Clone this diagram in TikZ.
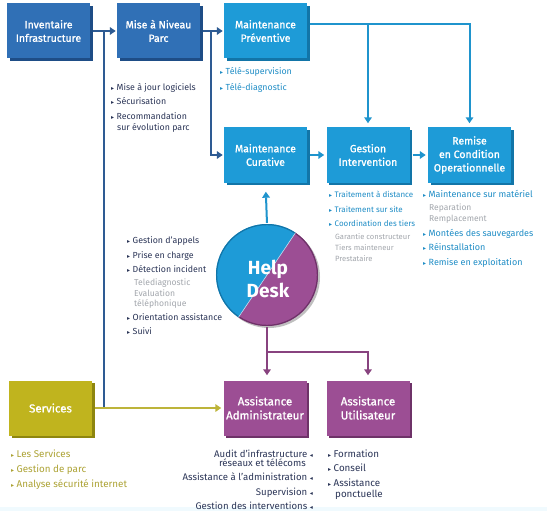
\documentclass[tikz,border=0pt]{standalone}
\usepackage{fontspec}
\setmainfont{Fira Sans}
\newfontfamily\djf{DejaVu Sans}
\newfontface\boxfnt{Fira Sans}[FakeBold=1.2]
\usetikzlibrary{arrows.meta,shadows}
\definecolor{dblue}{HTML}{3070B6}
\definecolor{dblueD}{HTML}{1E4D86}
\definecolor{cyanb}{HTML}{1E9BD7}
\definecolor{cyanD}{HTML}{1275A8}
\definecolor{oliveb}{HTML}{C0B41E}
\definecolor{oliveD}{HTML}{8E860F}
\definecolor{purpb}{HTML}{9C4E94}
\definecolor{purpD}{HTML}{6E3268}
\definecolor{lineblue}{HTML}{2E5B93}
\definecolor{linecyan}{HTML}{1F94CD}
\definecolor{linepurp}{HTML}{88437F}
\definecolor{lineolive}{HTML}{BDB43A}
\definecolor{navy}{HTML}{2B3557}
\definecolor{txtcyan}{HTML}{1F8DC6}
\definecolor{greyt}{HTML}{A3A7AD}
\definecolor{txtolive}{HTML}{ADA335}
\newcommand\rtri{{\djf\fontsize{6}{6}\selectfont ▸}\hspace{2.5pt}}
\newcommand\ltri{\hspace{2.5pt}{\djf\fontsize{6}{6}\selectfont ◂}}
\begin{document}
\begin{tikzpicture}[x=1pt,y=-1pt,
  box/.style={minimum width=83pt, minimum height=55pt, inner sep=1pt, align=center,
     text=white, font=\boxfnt\fontsize{10.5}{13.5}\selectfont},
  bluebox/.style={box, fill=dblue, general shadow={fill=dblueD, shadow xshift=2.5pt, shadow yshift=-2.5pt}},
  cyanbox/.style={box, fill=cyanb, general shadow={fill=cyanD, shadow xshift=2.5pt, shadow yshift=-2.5pt}},
  olivebox/.style={box, fill=oliveb, font=\boxfnt\fontsize{11.5}{14}\selectfont, general shadow={fill=oliveD, shadow xshift=2.5pt, shadow yshift=-2.5pt}},
  purpbox/.style={box, fill=purpb, font=\boxfnt\fontsize{11.5}{14}\selectfont, general shadow={fill=purpD, shadow xshift=2.5pt, shadow yshift=-2.5pt}},
  conn/.style={line width=2pt},
  arr/.style={conn, -{Triangle[length=6pt,width=7.5pt]}},
  lt/.style={anchor=base west, inner sep=0pt, font=\fontsize{8.8}{10}\selectfont},
  st/.style={anchor=base west, inner sep=0pt, font=\fontsize{8}{9}\selectfont, text=greyt},
  rt/.style={anchor=base east, inner sep=0pt, font=\fontsize{9.6}{10}\selectfont, text=navy},
  gs/.style={font=\fontsize{8}{9}\selectfont},
  rs/.style={font=\fontsize{9}{10}\selectfont},
  bs/.style={font=\fontsize{9.8}{10}\selectfont},
]
\useasboundingbox (0,0) rectangle (547,511);
\fill[white] (0,0) rectangle (547,511);
\fill[cyan!6] (0,507) rectangle (547,511);

% boxes
\node[bluebox] (inv) at (48.5,31) {Inventaire\\Infrastructure};
\node[bluebox] (mise) at (158.5,31) {Mise à Niveau\\Parc};
\node[cyanbox] (prev) at (265.5,31) {Maintenance\\Préventive};
\node[cyanbox] (cur) at (265.5,155) {Maintenance\\Curative};
\node[cyanbox] (gest) at (368,155) {Gestion\\Intervention};
\node[cyanbox] (rem) at (469.5,155) {Remise\\en Condition\\Operationnelle};
\node[olivebox] (serv) at (50.5,408) {Services};
\node[purpbox] (adm) at (265,408) {Assistance\\Administrateur};
\node[purpbox] (usr) at (368,408) {Assistance\\Utilisateur};

% help desk
\node[circle, minimum size=102pt, inner sep=0pt] (hd) at (267,275) {};
\fill[black!25] ([xshift=2pt,yshift=-2pt]hd.center) circle[radius=51pt];
\begin{scope}[shift={(hd.center)}, x=1pt, y=1pt]
  \fill[cyanb] (56:51) arc[start angle=56, end angle=236, radius=51] -- cycle;
  \fill[purpb] (236:51) arc[start angle=236, end angle=416, radius=51] -- cycle;
  \draw[cyanD, line width=1.2pt] (56:50.4) arc[start angle=56, end angle=236, radius=50.4];
  \draw[purpD, line width=1.2pt] (236:50.4) arc[start angle=236, end angle=416, radius=50.4];
  \draw[white!70!cyanb, line width=0.6pt] (56:51) -- (236:51);
\end{scope}
\node[text=white, font=\bfseries\fontsize{19}{23}\selectfont, align=center, inner sep=0pt] (hdt) at (268,279) {Help\\Desk};

% connectors
\coordinate (j1) at (104,31);
\coordinate (j2) at (211,31);
\coordinate (p1) at ([yshift=7pt]prev.east);
\coordinate (h1) at (hd.south |- 0,352);
\draw[arr, lineblue, shorten <=3pt, shorten >=1pt] (inv.east) -- (inv.east -| mise.west);
\draw[conn, lineblue] (j1) -- (j1 |- serv.east);
\draw[arr, lineolive, shorten <=3pt, shorten >=2pt] (serv.east) -- (adm.west);
\draw[arr, lineblue, shorten <=3pt, shorten >=1pt] (mise.east) -- (prev.west);
\draw[arr, lineblue, shorten >=1pt] (j2) |- (cur.west);
\draw[arr, linecyan, shorten <=3pt, shorten >=4pt] (p1) -| (rem.north);
\draw[arr, linecyan, shorten >=4pt] (p1 -| gest.north) -- (gest.north);
\draw[arr, linecyan, shorten <=3pt, shorten >=2pt] (cur.east) -- (gest.west);
\draw[arr, linecyan, shorten <=3pt, shorten >=2pt] (gest.east) -- (rem.west);
\draw[arr, linecyan, shorten <=1pt, shorten >=9pt] (hd.north) -- (cur.south);
\draw[conn, linepurp, shorten <=1pt] (hd.south) -- (h1);
\draw[arr, linepurp, shorten >=5pt] (h1) -- (h1 |- adm.north);
\draw[arr, linepurp, shorten >=5pt] (h1) -| (usr.north);

% Mise list
\node[lt, text=navy] (m1) at (111,91) {\rtri Mise à jour logiciels};
\node[lt, text=navy] (m2) at (111,105) {\rtri Sécurisation};
\node[lt, text=navy] (m3) at (111,120) {\rtri Recommandation};
\node[lt, text=navy] (m4) at (117,131) {sur évolution parc};

% Preventive list
\node[lt, text=txtcyan] (pv1) at (220,75) {\rtri Télé-supervision};
\node[lt, text=txtcyan] (pv2) at (220,91) {\rtri Télé-diagnostic};

% Gestion list
\node[lt, gs, text=txtcyan] (g1) at (329,197) {\rtri Traitement à distance};
\node[lt, gs, text=txtcyan] (g2) at (329,212) {\rtri Traitement sur site};
\node[lt, gs, text=txtcyan] (g3) at (329,226) {\rtri Coordination des tiers};
\node[st, font=\fontsize{7.6}{9}\selectfont] (g4) at (335,239) {Garantie constructeur};
\node[st, font=\fontsize{7.6}{9}\selectfont] (g5) at (335,250) {Tiers mainteneur};
\node[st, font=\fontsize{7.6}{9}\selectfont] (g6) at (335,261) {Prestataire};

% Remise list
\node[lt, rs, text=txtcyan] (r1) at (423,197) {\rtri Maintenance sur matériel};
\node[st, font=\fontsize{8.5}{9}\selectfont] (r2) at (429,210) {Reparation};
\node[st, font=\fontsize{8.5}{9}\selectfont] (r3) at (429,221) {Remplacement};
\node[lt, rs, text=txtcyan] (r4) at (423,236) {\rtri Montées des sauvegardes};
\node[lt, rs, text=txtcyan] (r5) at (423,250) {\rtri Réinstallation};
\node[lt, rs, text=txtcyan] (r6) at (423,265) {\rtri Remise en exploitation};

% Help desk list
\node[lt, text=navy] (d1) at (127,243) {\rtri Gestion d'appels};
\node[lt, text=navy] (d2) at (127,258) {\rtri Prise en charge};
\node[lt, text=navy] (d3) at (127,272) {\rtri Détection incident};
\node[st, font=\fontsize{8.6}{9}\selectfont] (d4) at (134,285) {Telediagnostic};
\node[st, font=\fontsize{8.6}{9}\selectfont] (d5) at (134,296) {Evaluation};
\node[st, font=\fontsize{8.6}{9}\selectfont] (d6) at (134,306) {téléphonique};
\node[lt, text=navy] (d7) at (127,320) {\rtri Orientation assistance};
\node[lt, text=navy] (d8) at (127,334) {\rtri Suivi};

% Services list
\node[lt, bs, text=txtolive] (s1) at (11,457) {\rtri Les Services};
\node[lt, bs, text=txtolive] (s2) at (11,472) {\rtri Gestion de parc};
\node[lt, bs, text=txtolive] (s3) at (11,487) {\rtri Analyse sécurité internet};

% Admin list
\node[rt] (a1) at (313,457) {Audit d'infrastructure\ltri};
\node[rt] (a2) at (306,466) {réseaux et télécoms};
\node[rt] (a3) at (313,480) {Assistance à l'administration\ltri};
\node[rt] (a4) at (313,495) {Supervision\ltri};
\node[rt] (a5) at (313,509) {Gestion des interventions\ltri};

% User list
\node[lt, bs, text=navy] (u1) at (328,457) {\rtri Formation};
\node[lt, bs, text=navy] (u2) at (328,471) {\rtri Conseil};
\node[lt, bs, text=navy] (u3) at (328,486) {\rtri Assistance};
\node[lt, bs, text=navy] (u4) at (335,497) {ponctuelle};
\end{tikzpicture}
\end{document}
